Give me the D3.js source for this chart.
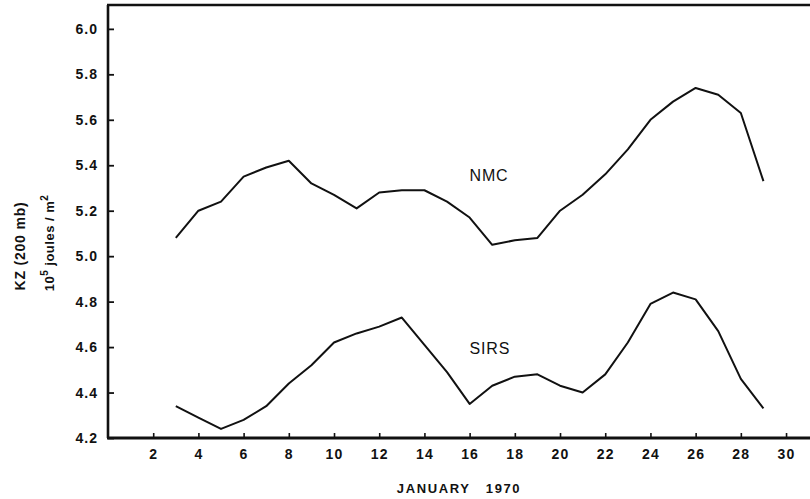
<!DOCTYPE html>
<html>
<head>
<meta charset="utf-8">
<script src="https://cdn.jsdelivr.net/npm/d3@7"></script>
<style>
  html, body { margin: 0; padding: 0; background: #fff; }
  svg { display: block; }
  text { font-family: "Liberation Sans", Arial, sans-serif; fill: #111; }
</style>
</head>
<body>
<svg id="chart" width="810" height="499"></svg>
<script>
// Days of January 1970 that carry a value
const days = [3, 4, 5, 6, 7, 8, 9, 10, 11, 12, 13, 14, 15, 16,
              17, 18, 19, 20, 21, 22, 23, 24, 25, 26, 27, 28, 29];

// Zonal kinetic energy at 200 mb, 10^5 J/m^2
const nmc  = [5.08, 5.20, 5.24, 5.35, 5.39, 5.42, 5.32, 5.27, 5.21, 5.28, 5.29, 5.29, 5.24, 5.17,
              5.05, 5.07, 5.08, 5.20, 5.27, 5.36, 5.47, 5.60, 5.68, 5.74, 5.71, 5.63, 5.33];
const sirs = [4.34, 4.29, 4.24, 4.28, 4.34, 4.44, 4.52, 4.62, 4.66, 4.69, 4.73, 4.61, 4.49, 4.35,
              4.43, 4.47, 4.48, 4.43, 4.40, 4.48, 4.62, 4.79, 4.84, 4.81, 4.67, 4.46, 4.33];

const xTicks = [2, 4, 6, 8, 10, 12, 14, 16, 18, 20, 22, 24, 26, 28, 30];
const yTicks = [4.2, 4.4, 4.6, 4.8, 5.0, 5.2, 5.4, 5.6, 5.8, 6.0];

const seriesLabels = [
  { name: "NMC",  values: nmc,  day: 16, value: 5.33 },
  { name: "SIRS", values: sirs, day: 16, value: 4.57 }
];

const svg = d3.select("#chart");

const plotLeft = 108, plotRight = 810, plotBottom = 438, plotTop = 5;
const x = d3.scaleLinear().domain([0, 31.06]).range([plotLeft, plotRight]);
const y = d3.scaleLinear().domain([4.2, 6.105]).range([plotBottom, plotTop]);

// frame: left axis, top border, bottom axis
const frame = svg.append("g").attr("stroke", "#111").attr("fill", "none");
frame.append("line").attr("x1", plotLeft).attr("x2", plotLeft).attr("y1", plotTop).attr("y2", plotBottom)
  .attr("stroke-width", 2.6);
frame.append("line").attr("x1", plotLeft - 1).attr("x2", plotRight).attr("y1", plotTop).attr("y2", plotTop)
  .attr("stroke-width", 2.6);
frame.append("line").attr("x1", plotLeft - 1).attr("x2", plotRight).attr("y1", plotBottom).attr("y2", plotBottom)
  .attr("stroke-width", 2.8);

// y axis: inward ticks, labels on the left
const yAxis = d3.axisLeft(y).tickValues(yTicks).tickSize(-6).tickPadding(10)
  .tickFormat(d3.format(".1f"));
const gy = svg.append("g").attr("transform", `translate(${plotLeft},0)`).call(yAxis);
gy.select(".domain").remove();
gy.selectAll(".tick line").attr("stroke", "#111").attr("stroke-width", 1.8);
gy.selectAll(".tick text")
  .attr("font-size", 14).attr("font-weight", "bold").attr("letter-spacing", 1)
  .attr("font-family", "Liberation Sans, Arial, sans-serif").attr("fill", "#111");

// x axis: inward ticks, labels below
const xAxis = d3.axisBottom(x).tickValues(xTicks).tickSize(-5).tickPadding(11)
  .tickFormat(d3.format("d"));
const gx = svg.append("g").attr("transform", `translate(0,${plotBottom})`).call(xAxis);
gx.select(".domain").remove();
gx.selectAll(".tick line").attr("stroke", "#111").attr("stroke-width", 1.6);
gx.selectAll(".tick text")
  .attr("font-size", 14).attr("font-weight", "bold").attr("letter-spacing", 1.2)
  .attr("font-family", "Liberation Sans, Arial, sans-serif").attr("fill", "#111");

// curves
const line = d3.line().x((d, i) => x(days[i])).y(d => y(d));
seriesLabels.forEach(s => {
  svg.append("path").datum(s.values)
    .attr("d", line)
    .attr("fill", "none")
    .attr("stroke", "#111")
    .attr("stroke-width", 2)
    .attr("stroke-linejoin", "round");
});

// series names
seriesLabels.forEach(s => {
  svg.append("text")
    .attr("x", x(s.day))
    .attr("y", y(s.value))
    .attr("font-size", 16)
    .attr("letter-spacing", 0.8)
    .text(s.name);
});

// x axis title
svg.append("text")
  .attr("x", 459).attr("y", 493)
  .attr("text-anchor", "middle")
  .attr("font-size", 13).attr("font-weight", "bold").attr("letter-spacing", 1.6)
  .attr("xml:space", "preserve")
  .text("JANUARY   1970");

// y axis title, two rotated lines
svg.append("text")
  .attr("transform", "translate(25,246) rotate(-90)")
  .attr("text-anchor", "middle")
  .attr("font-size", 14).attr("font-weight", "bold").attr("letter-spacing", 0.8)
  .text("KZ (200 mb)");

const t2 = svg.append("text")
  .attr("transform", "translate(54,243) rotate(-90)")
  .attr("text-anchor", "middle")
  .attr("font-size", 13).attr("font-weight", "bold").attr("letter-spacing", 0.5);
t2.append("tspan").text("10");
t2.append("tspan").attr("dy", -6).attr("font-size", 10).text("5");
t2.append("tspan").attr("dy", 6).text(" joules / m");
t2.append("tspan").attr("dy", -6).attr("font-size", 10).text("2");
</script>
</body>
</html>
